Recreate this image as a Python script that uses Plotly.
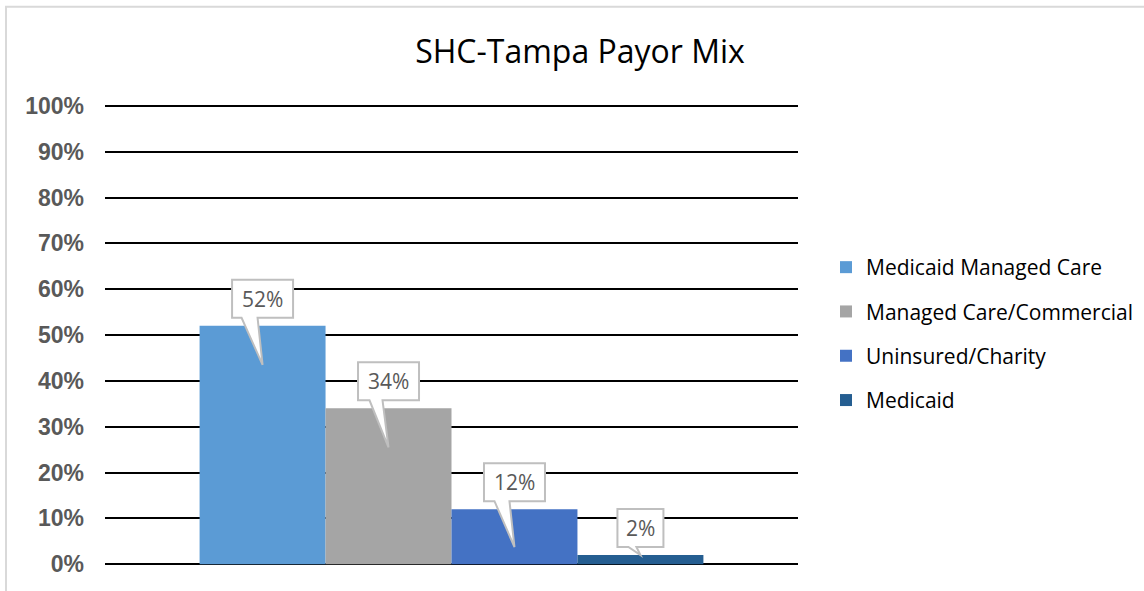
import plotly.graph_objects as go

# ---- data ----
payors = ["Medicaid Managed Care", "Managed Care/Commercial", "Uninsured/Charity", "Medicaid"]
shares = [52, 34, 12, 2]
labels = ["52%", "34%", "12%", "2%"]
category = ["SHC-Tampa"]
y_ticks = [0, 10, 20, 30, 40, 50, 60, 70, 80, 90, 100]
y_tick_text = ["0%", "10%", "20%", "30%", "40%", "50%", "60%", "70%", "80%", "90%", "100%"]

# ---- style ----
colors = ["#5B9BD5", "#A5A5A5", "#4472C4", "#255E91"]
bargap = 0.273
tail_depth = [39, 39, 38, 0]           # px the callout tail reaches below the bar top
tail_base = [(-21, -5), (-19, -6), (-20, -5), (-12, -4)]
FONT = "Open Sans"

fig = go.Figure()
for name, v, c in zip(payors, shares, colors):
    fig.add_trace(go.Bar(x=category, y=[v], name=name, marker=dict(color=c, line=dict(width=0)),
                         legendgroup=name, hoverinfo="skip"))

n = len(payors)
group_w = 1 - bargap
bw = group_w / n
shapes = []
annotations = []
for i, (v, lab) in enumerate(zip(shares, labels)):
    xc = -group_w / 2 + (i + 0.5) * bw
    w = 15 * len(lab) + 16
    h = w / 2
    bl, br = tail_base[i]
    d = tail_depth[i]
    path = (f"M {-h},46 L {h},46 L {h},8 L {br},8 L 0,{-d} L {bl},8 L {-h},8 Z")
    shapes.append(dict(type="path", xref="x", yref="y", xsizemode="pixel", ysizemode="pixel",
                       xanchor=xc, yanchor=v, path=path, fillcolor="white",
                       line=dict(color="#BFBFBF", width=2), layer="above"))
    annotations.append(dict(x=xc, y=v, xref="x", yref="y", text=lab, showarrow=False,
                            yshift=27, yanchor="middle", xanchor="center",
                            font=dict(family=FONT, size=21, color="#595959")))

# plot-area geometry (px)
W, H = 1144, 591
pl, pw = 105, 693
pt, ph = 106, 458
pad = 0.4  # % of headroom so the 0% and 100% grid lines are drawn
ymin, ymax = -pad, 100 + pad
ppu = ph / 100.0
pt2 = pt - pad * ppu
ph2 = ph + 2 * pad * ppu

# chart border
shapes.append(dict(type="rect", xref="paper", yref="paper",
                   x0=(6 - pl) / pw, x1=(1160 - pl) / pw,
                   y0=-0.2, y1=1 + (pt2 - 7) / ph2,
                   line=dict(color="#D9D9D9", width=2), fillcolor="rgba(0,0,0,0)", layer="below"))

fig.update_layout(
    width=W, height=H,
    margin=dict(l=pl, r=W - pl - pw, t=pt2, b=H - pt2 - ph2, pad=0, autoexpand=False),
    paper_bgcolor="white", plot_bgcolor="white",
    barmode="group", bargap=bargap, bargroupgap=0,
    title=dict(text="SHC-Tampa Payor Mix", x=580 / W, xanchor="center", xref="container",
               y=1 - 52 / H, yanchor="middle", yref="container",
               font=dict(family=FONT, size=32, color="#000000")),
    xaxis=dict(type="category", showticklabels=False, showgrid=False, zeroline=False,
               showline=False, ticks="", range=[-0.5, 0.5]),
    yaxis=dict(range=[ymin, ymax], tickvals=y_ticks, ticktext=y_tick_text,
               showgrid=True, gridcolor="#000000", gridwidth=2, zeroline=False, showline=False,
               ticks="", ticklabelstandoff=20,
               tickfont=dict(family="Liberation Sans", size=23, color="#595959", weight="bold")),
    legend=dict(x=826 / W, xanchor="left", y=1 - 247 / H, yanchor="top",
                yref="container", xref="container",
                font=dict(family=FONT, size=21, color="#000000"),
                tracegroupgap=14, itemclick=False, bgcolor="rgba(0,0,0,0)"),
    shapes=shapes, annotations=annotations,
    showlegend=True,
)

fig.write_html("out.html", config={"displayModeBar": False},
               post_script="document.body.style.margin='0';")
